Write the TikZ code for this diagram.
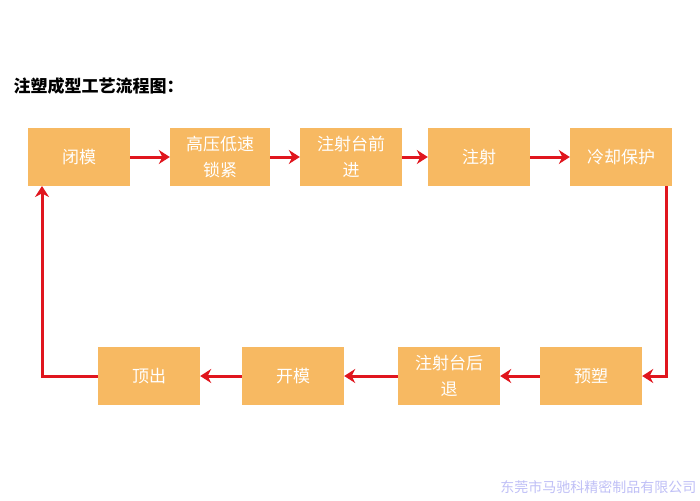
\documentclass[tikz,border=0pt]{standalone}
\usepackage{fontspec}
\newfontfamily\cjk{Noto Sans CJK SC}
\usetikzlibrary{arrows.meta}
\definecolor{boxc}{HTML}{F7B962}
\definecolor{arr}{HTML}{E0161E}
\begin{document}
\begin{tikzpicture}[x=1pt,y=-1pt,
  stepbox/.style={fill=boxc,draw=none,minimum width=102pt,minimum height=58pt,text=white,font=\cjk\fontsize{17}{26}\selectfont,align=center,inner sep=2pt},
  flow/.style={draw=arr,line width=3pt,-{Stealth[length=11pt,width=14pt]}}]
\useasboundingbox (0,0) rectangle (700,500);
\node[anchor=west,font=\cjk\bfseries\fontsize{17}{20}\selectfont] (title) at (10,86) {注塑成型工艺流程图：};
\node[stepbox] (a) at (79,157) {闭模};
\node[stepbox,minimum width=100pt] (b) at (220,157) {高压低速\\锁紧};
\node[stepbox] (c) at (351,157) {注射台前\\进};
\node[stepbox] (d) at (479,157) {注射};
\node[stepbox] (e) at (621,157) {冷却保护};
\node[stepbox] (f) at (591,376) {预塑};
\node[stepbox] (g) at (449,376) {注射台后\\退};
\node[stepbox] (h) at (293,376) {开模};
\node[stepbox] (i) at (149,376) {顶出};
\draw[flow] (a) -- (b);
\draw[flow] (b) -- (c);
\draw[flow] (c) -- (d);
\draw[flow] (d) -- (e);
\coordinate (er) at (666,186);
\draw[flow] (er) |- (f.east);
\draw[flow] (f) -- (g);
\draw[flow] (g) -- (h);
\draw[flow] (h) -- (i);
\coordinate (il) at (42,376);
\coordinate (at) at (42,186);
\draw[flow] (i.west) -- (il) -- (at);
\node[anchor=east,font=\cjk\fontsize{14}{16}\selectfont,text=black!15!blue!25!white] (wm) at (700,487) {东莞市马驰科精密制品有限公司};
\end{tikzpicture}
\end{document}
